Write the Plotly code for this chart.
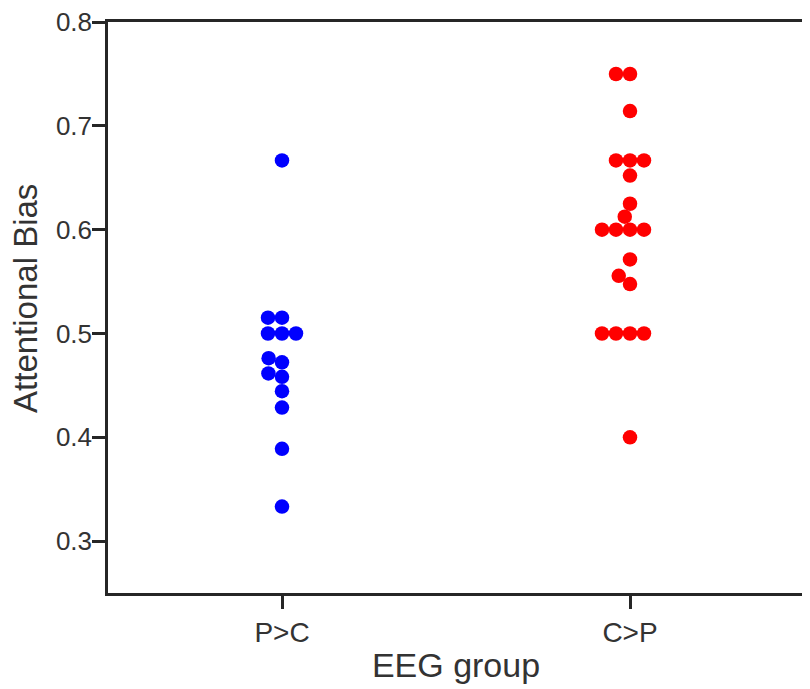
import numpy as np
import plotly.graph_objects as go

GROUPS = ["P>C", "C>P"]
COLORS = ["#0000ff", "#ff0000"]

pc_bias = [0.3333, 0.3889, 0.4286, 0.4444, 0.4583, 0.4615, 0.4722, 0.4762,
           0.5, 0.5, 0.5, 0.5152, 0.5152, 0.6667]
cp_bias = [0.4, 0.5, 0.5, 0.5, 0.5, 0.5476, 0.5556, 0.5714,
           0.6, 0.6, 0.6, 0.6, 0.6125, 0.625, 0.6522,
           0.6667, 0.6667, 0.6667, 0.7143, 0.75, 0.75]

Y_TICKS = [0.3, 0.4, 0.5, 0.6, 0.7, 0.8]
Y_RANGE = [0.25, 0.8001]
X_RANGE = [-0.5, 1.5]

# page body has an 8px margin, so the figure is 8px smaller than the window
W, H = 802, 681
MARGIN = dict(l=100, r=6, t=14, b=96)
plot_w = W - MARGIN["l"] - MARGIN["r"]
plot_h = H - MARGIN["t"] - MARGIN["b"]
px_per_x = plot_w / (X_RANGE[1] - X_RANGE[0])
px_per_y = plot_h / (Y_RANGE[1] - Y_RANGE[0])

DOT = 14  # swarm spacing in pixels


def swarm_offsets(values, d=DOT):
    """seaborn-like beeswarm: returns x offsets in pixels"""
    ys = np.asarray(values) * px_per_y
    xs = np.zeros(len(ys))
    placed = []
    for i in np.argsort(ys, kind="stable"):
        y = ys[i]
        near = [(px, py) for px, py in placed if abs(py - y) < d]
        cands = [0.0]
        for px, py in near:
            dx = np.sqrt(d * d - (y - py) ** 2)
            cands += [px - dx, px + dx]
        order = np.argsort(np.abs(cands), kind="stable")
        for j in order:
            c = cands[j]
            if all((c - px) ** 2 + (y - py) ** 2 >= d * d - 1 for px, py in near):
                xs[i] = c
                break
        placed.append((xs[i], y))
    return xs


fig = go.Figure()
for k, vals in enumerate([pc_bias, cp_bias]):
    off = swarm_offsets(vals) / px_per_x
    fig.add_trace(go.Scatter(
        x=k + off, y=vals, mode="markers",
        marker=dict(color=COLORS[k], size=14.5, line=dict(width=0)),
        showlegend=False,
    ))

axis_col = "#262626"
text_col = "#333333"
fig.update_layout(
    width=W, height=H,
    margin=MARGIN,
    paper_bgcolor="white",
    plot_bgcolor="white",
    font=dict(family="Liberation Sans, Arial, sans-serif", color=text_col),
    xaxis=dict(
        range=X_RANGE, tickvals=[0, 1], ticktext=GROUPS,
        showgrid=False, zeroline=False, automargin=False,
        showline=True, mirror=True, linecolor=axis_col, linewidth=2.5,
        ticks="outside", ticklen=13, tickwidth=2.5, tickcolor=axis_col,
        tickfont=dict(size=28, color=text_col),
        title=dict(text="EEG group", font=dict(size=34, color=text_col), standoff=6),
    ),
    yaxis=dict(
        range=Y_RANGE, tickvals=Y_TICKS, tickformat=".1f",
        showgrid=False, zeroline=False, automargin=False,
        showline=True, mirror=True, linecolor=axis_col, linewidth=2.5,
        ticks="outside", ticklen=13, tickwidth=2.5, tickcolor=axis_col,
        tickfont=dict(size=26, color=text_col),
        ticklabeloverflow="allow", ticklabelstandoff=-5,
    ),
)

# y title as a rotated annotation so it can sit close to the left edge
fig.add_annotation(
    text="Attentional Bias", textangle=-90,
    xref="paper", yref="paper", x=(18 - MARGIN["l"]) / plot_w, y=0.515,
    xanchor="center", yanchor="middle", showarrow=False,
    font=dict(size=33, color=text_col),
)

fig.write_html("out.html")
